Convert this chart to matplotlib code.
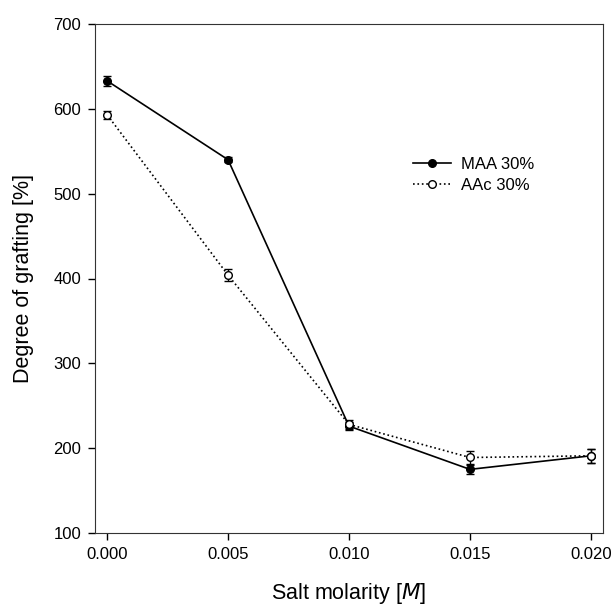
import matplotlib
matplotlib.use('Agg')
import matplotlib.pyplot as plt

plt.rcParams['font.family'] = ['Liberation Sans', 'DejaVu Sans']

molarity = [0.000, 0.005, 0.010, 0.015, 0.020]
maa = [633, 540, 226, 175, 191]
maa_err = [6, 3, 5, 5, 8]
aac = [593, 404, 228, 189, 191]
aac_err = [5, 7, 5, 8, 8]

fig = plt.figure(figsize=(6.14, 6.05), dpi=100)
ax = fig.add_axes([95 / 614, 1 - 533 / 605, 508 / 614, 509 / 605])

l1 = ax.errorbar(molarity, maa, yerr=maa_err, color='black', lw=1.2, marker='o', ms=5.5,
                 mfc='black', capsize=3, elinewidth=1)
l2 = ax.errorbar(molarity, aac, yerr=aac_err, color='black', lw=1.2, ls=':', marker='o', ms=5.5,
                 mfc='white', capsize=3, elinewidth=1)

ax.set_xlim(-0.0005, 0.0205)
ax.set_ylim(100, 700)
ax.set_xticks([0.000, 0.005, 0.010, 0.015, 0.020])
ax.set_xticklabels(['0.000', '0.005', '0.010', '0.015', '0.020'])
ax.set_yticks(range(100, 701, 100))
ax.tick_params(direction='out', length=5, labelsize=12, width=1, pad=5)
for s in ax.spines.values():
    s.set_color('#333333')

ax.set_xlabel('Salt molarity [$\\mathit{M}$]', fontsize=15.5, labelpad=14)
ax.set_ylabel('Degree of grafting [%]', fontsize=15.5, labelpad=14)

ax.legend([l1.lines[0], l2.lines[0]], ['MAA 30%', 'AAc 30%'], loc='upper left',
          bbox_to_anchor=(0.596, 0.768), frameon=False, fontsize=12,
          handlelength=2.3, handletextpad=0.6, labelspacing=0.35)

fig.savefig('out.png', dpi=100)
